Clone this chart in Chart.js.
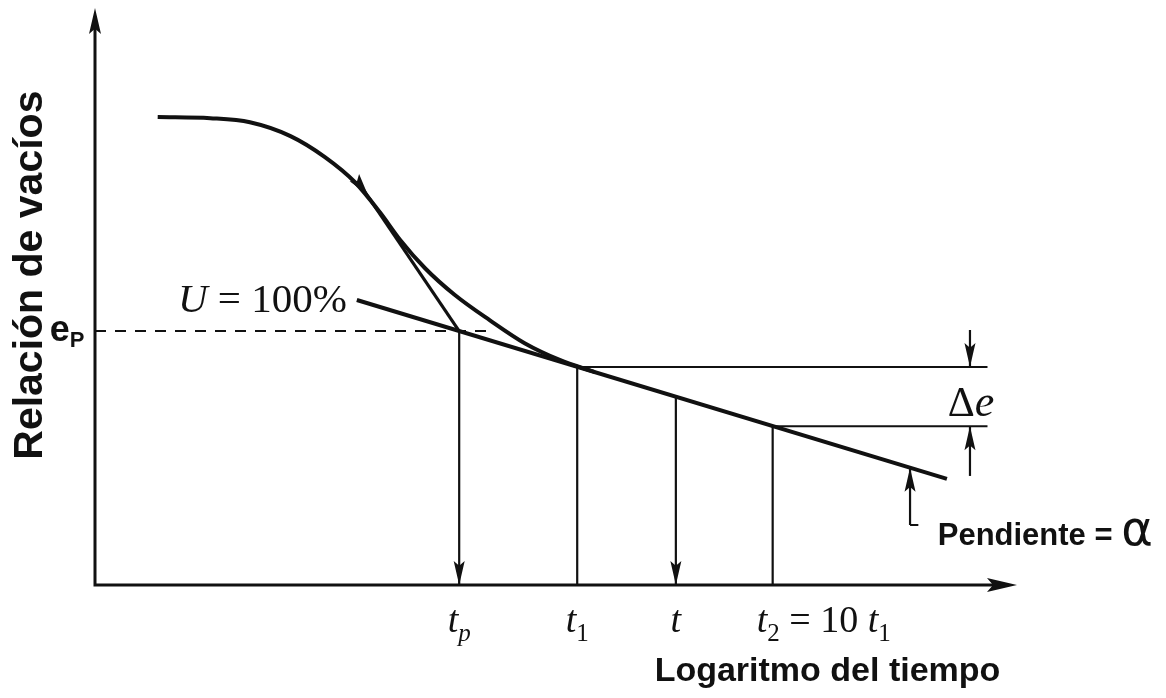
<!DOCTYPE html>
<html lang="es">
<head>
<meta charset="utf-8">
<title>Relación de vacíos - logaritmo del tiempo</title>
<script src="https://cdn.jsdelivr.net/npm/chart.js@4.4.1/dist/chart.umd.min.js"></script>
<style>
  html, body { margin: 0; padding: 0; background: #fff; }
  #wrap { width: 1166px; height: 698px; position: relative; }
</style>
</head>
<body>
<div id="wrap"><canvas id="chart"></canvas></div>
<script>
// curva e - log t (unidades arbitrarias: log t de 0 a 10, e de 0 a 10)
const curveX = [0.68, 1.25, 1.68, 2.12, 2.49, 2.82, 3.09, 3.31, 3.58, 3.90, 4.28, 4.66, 5.04, 5.42];
const curveE = [8.11, 8.09, 8.02, 7.78, 7.42, 6.98, 6.46, 5.98, 5.49, 5.03, 4.59, 4.19, 3.90, 3.69];

// recta de compresión secundaria (U = 100%)
const secX = [2.84, 9.24];
const secE = [4.94, 1.84];

// tangente en el punto de inflexión
const tanX = [2.90, 3.95];
const tanE = [6.88, 4.40];

// tiempos marcados sobre el eje y su e sobre la recta
const tickX = [3.95, 5.23, 6.30, 7.35];
const tickE = [4.40, 3.78, 3.26, 2.75];
const tickArrow = [true, false, true, false];

// e_p y cotas
const ep = 4.40;
const epEnd = 4.25;
const guideEnd = 9.68;          // fin de las horizontales de t1 y t2
const deltaX = 9.49;            // cota de Δe
const deltaTop = 4.42, deltaBottom = 1.89;
const slopeX = 8.84;            // flecha de la pendiente
const slopeFrom = 1.04, slopeTo = 2.03;
const curveArrow = { x: 2.96, y: 6.76, ang: 52 };

const X_MAX = 10, Y_MAX = 10;

const pts = (xs, ys) => xs.map((x, i) => ({ x, y: ys[i] }));
const seg = (x1, y1, x2, y2, width, dash) => ({
  data: [{ x: x1, y: y1 }, { x: x2, y: y2 }],
  borderColor: '#111', borderWidth: width || 2, borderDash: dash || [],
  showLine: true, pointRadius: 0, clip: false
});

const datasets = [
  {
    data: pts(curveX, curveE), borderColor: '#111', borderWidth: 4,
    showLine: true, pointRadius: 0, cubicInterpolationMode: 'monotone', clip: false
  },
  seg(secX[0], secE[0], secX[1], secE[1], 4),
  seg(tanX[0], tanE[0], tanX[1], tanE[1], 3.2),
  seg(0, ep, epEnd, ep, 2, [11, 9]),
  seg(tickX[1], tickE[1], guideEnd, tickE[1], 2),
  seg(tickX[3], tickE[3], guideEnd, tickE[3], 2),
  seg(deltaX, deltaTop, deltaX, tickE[1], 2.2),
  seg(deltaX, deltaBottom, deltaX, tickE[3], 2.2),
  seg(slopeX, slopeFrom, slopeX, slopeTo, 2.2),
  seg(slopeX, slopeFrom, slopeX + 0.09, slopeFrom, 2)
];
tickX.forEach((x, i) => datasets.push(seg(x, tickE[i], x, 0, 2.2)));

// puntas de flecha (dirección en grados, 90 = hacia abajo)
const heads = [
  { x: deltaX, y: tickE[1], ang: 90 },
  { x: deltaX, y: tickE[3], ang: -90 },
  { x: slopeX, y: slopeTo, ang: -90 }
];
tickX.forEach((x, i) => { if (tickArrow[i]) heads.push({ x, y: 0, ang: 90 }); });

const SERIF = '"Liberation Serif", "Times New Roman", serif';
const SANS = '"Liberation Sans", Arial, sans-serif';

function arrowHead(ctx, x, y, ang, len, half) {
  ctx.save();
  ctx.translate(x, y);
  ctx.rotate(ang * Math.PI / 180);
  ctx.beginPath();
  ctx.moveTo(0, 0);
  ctx.lineTo(-len, -half);
  ctx.lineTo(-len * 0.8, 0);
  ctx.lineTo(-len, half);
  ctx.closePath();
  ctx.fill();
  ctx.restore();
}

// texto compuesto: partes con su fuente y desplazamiento vertical
function rich(ctx, x, y, parts, align) {
  let w = 0;
  parts.forEach(p => { ctx.font = p.f; w += ctx.measureText(p.t).width; });
  let cx = align === 'center' ? x - w / 2 : x;
  parts.forEach(p => {
    ctx.font = p.f;
    ctx.fillText(p.t, cx, y + (p.dy || 0));
    cx += ctx.measureText(p.t).width;
  });
}

const tickLabels = [
  [{ t: 't', f: 'italic 38px ' + SERIF }, { t: 'p', f: 'italic 25px ' + SERIF, dy: 9 }],
  [{ t: 't', f: 'italic 38px ' + SERIF }, { t: '1', f: '25px ' + SERIF, dy: 9 }],
  [{ t: 't', f: 'italic 38px ' + SERIF }],
  [{ t: 't', f: 'italic 38px ' + SERIF }, { t: '2', f: '25px ' + SERIF, dy: 9 },
   { t: ' = 10 ', f: '38px ' + SERIF }, { t: 't', f: 'italic 38px ' + SERIF },
   { t: '1', f: '25px ' + SERIF, dy: 9 }]
];

const diagram = {
  id: 'diagram',
  afterDatasetsDraw(chart) {
    const { ctx, scales: { x, y } } = chart;
    const X = v => x.getPixelForValue(v);
    const Y = v => y.getPixelForValue(v);
    ctx.save();
    ctx.fillStyle = '#111';
    ctx.strokeStyle = '#111';

    // ejes
    ctx.lineWidth = 3;
    ctx.beginPath();
    ctx.moveTo(X(0), Y(Y_MAX) + 10);
    ctx.lineTo(X(0), Y(0));
    ctx.lineTo(X(X_MAX) - 12, Y(0));
    ctx.stroke();
    arrowHead(ctx, X(0), Y(Y_MAX), -90, 26, 6);
    arrowHead(ctx, X(X_MAX), Y(0), 0, 30, 7);

    heads.forEach(h => arrowHead(ctx, X(h.x), Y(h.y), h.ang, 24, 5.5));
    arrowHead(ctx, X(curveArrow.x), Y(curveArrow.y), curveArrow.ang, 22, 6);

    // rótulos de los tiempos
    ctx.textBaseline = 'alphabetic';
    tickLabels.forEach((parts, i) => {
      if (i === 3) rich(ctx, X(tickX[i]) - 16, Y(-0.82), parts, 'left');
      else rich(ctx, X(tickX[i]), Y(-0.82), parts, 'center');
    });

    rich(ctx, X(0.9), Y(4.73), [
      { t: 'U', f: 'italic 41px ' + SERIF }, { t: ' = 100%', f: '41px ' + SERIF }
    ], 'left');
    rich(ctx, X(9.25), Y(2.93), [
      { t: 'Δ', f: '42px ' + SERIF }, { t: 'e', f: 'italic 44px ' + SERIF }
    ], 'left');
    rich(ctx, X(-0.49), Y(4.23), [
      { t: 'e', f: 'bold 36px ' + SANS }, { t: 'P', f: 'bold 22px ' + SANS, dy: 6 }
    ], 'left');
    rich(ctx, X(9.14), Y(0.69), [
      { t: 'Pendiente = ', f: 'bold 31px ' + SANS }, { t: 'α', f: '48px "DejaVu Sans", sans-serif' }
    ], 'left');

    // títulos de los ejes
    ctx.font = 'bold 34px ' + SANS;
    ctx.textAlign = 'left';
    ctx.fillText('Logaritmo del tiempo', X(6.07), Y(-1.66));
    ctx.save();
    ctx.translate(X(-0.7), Y(5.37));
    ctx.rotate(-Math.PI / 2);
    ctx.textAlign = 'center';
    ctx.textBaseline = 'middle';
    ctx.font = 'bold 41px ' + SANS;
    ctx.fillText('Relación de vacíos', 0, 0);
    ctx.restore();

    ctx.restore();
  }
};

new Chart(document.getElementById('chart'), {
  type: 'scatter',
  data: { datasets },
  options: {
    responsive: true,
    maintainAspectRatio: false,
    animation: false,
    layout: { padding: { left: 95, right: 149, top: 8, bottom: 113 } },
    scales: {
      x: { type: 'linear', min: 0, max: X_MAX, display: false },
      y: { type: 'linear', min: 0, max: Y_MAX, display: false }
    },
    plugins: { legend: { display: false }, tooltip: { enabled: false } }
  },
  plugins: [diagram]
});
</script>
</body>
</html>
